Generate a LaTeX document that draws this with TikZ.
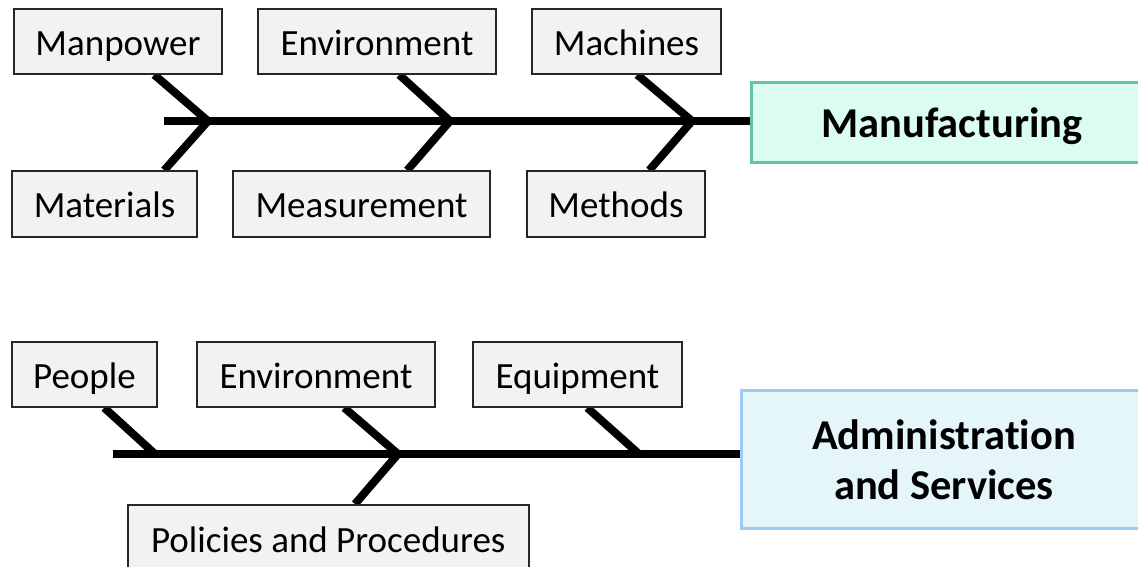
\documentclass[tikz,border=0pt]{standalone}
\usepackage{fontspec}
\setmainfont{Carlito}[Ligatures=NoCommon]
\usetikzlibrary{calc,backgrounds}
\definecolor{boxfill}{HTML}{F2F2F2}
\definecolor{mfgline}{HTML}{5FC89B}
\definecolor{mfgfill}{HTML}{DAFCF2}
\definecolor{admline}{HTML}{9DCBF5}
\definecolor{admfill}{HTML}{E5F6FB}
\tikzset{
  cause/.style={draw=black!85, line width=1.5pt, fill=boxfill, inner sep=0pt,
    minimum height=65pt, text height=34pt, text depth=7pt,
    font=\fontsize{37}{44}\selectfont},
  effect/.style={line width=3pt, inner sep=0pt, align=center,
    font=\fontsize{42.5}{50}\selectfont\bfseries},
  bone/.style={line width=8pt, black}
}
\begin{document}
\begin{tikzpicture}[x=1pt,y=-1pt]
\useasboundingbox (0,0) rectangle (1138,566);
% top diagram
\node[cause, minimum width=208pt] (manpower) at (118,41.5) {Manpower};
\node[cause, minimum width=238pt] (envA) at (377,41.5) {Environment};
\node[cause, minimum width=189pt] (machines) at (626.5,41.5) {Machines};
\node[cause, minimum width=185pt, minimum height=66pt] (materials) at (104.5,204) {Materials};
\node[cause, minimum width=257pt, minimum height=66pt] (measurement) at (361.5,204) {Measurement};
\node[cause, minimum width=178pt, minimum height=66pt] (methods) at (616,204) {Methods};
\node[effect, draw=mfgline, fill=mfgfill, minimum width=402pt, minimum height=80pt,
  text height=38pt, text depth=8pt] (mfg) at (952,122) {Manufacturing};
\coordinate (sA) at (164,121);
\coordinate (jA1) at (208,121);
\coordinate (jA2) at (450,121);
\coordinate (jA3) at (692,121);
\begin{scope}[on background layer]
\draw[bone] (sA) -- (sA -| mfg.west);
\draw[bone] ($(manpower.south west)+(141,0)$) -- (jA1) -- ($(materials.north west)+(153,0)$);
\draw[bone] ($(envA.south west)+(142,0)$) -- (jA2) -- ($(measurement.north west)+(175,0)$);
\draw[bone] ($(machines.south west)+(106,0)$) -- (jA3) -- ($(methods.north west)+(123,0)$);
\end{scope}
% bottom diagram
\node[cause, minimum width=145pt] (people) at (84.5,374.5) {People};
\node[cause, minimum width=238pt] (envB) at (316,374.5) {Environment};
\node[cause, minimum width=209pt] (equipment) at (577.5,374.5) {Equipment};
\node[cause, minimum width=401pt, minimum height=66pt, anchor=north west,
  text height=36pt, text depth=7pt] (policies) at (127,504) {Policies and Procedures};
\node[effect, draw=admline, fill=admfill, minimum width=406pt, minimum height=138pt] (adm) at (944,459) {\rule{0pt}{32pt}Administration\\and Services};
\coordinate (sB) at (113,454);
\coordinate (jB1) at (155,454);
\coordinate (jB2) at (398,454);
\coordinate (jB3) at (639,454);
\begin{scope}[on background layer]
\draw[bone] (sB) -- (sB -| adm.west);
\draw[bone] ($(people.south west)+(93,0)$) -- (jB1);
\draw[bone] ($(envB.south west)+(148,0)$) -- (jB2) -- ($(policies.north west)+(228,0)$);
\draw[bone] ($(equipment.south west)+(115,0)$) -- (jB3);
\end{scope}
\end{tikzpicture}
\end{document}
